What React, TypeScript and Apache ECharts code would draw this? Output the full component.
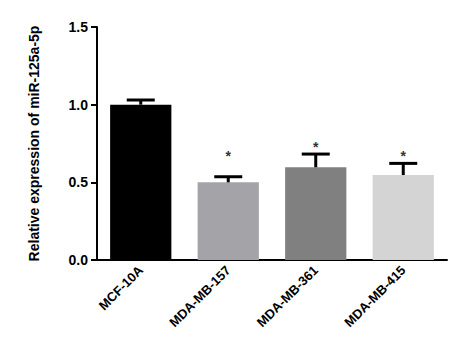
import React, { useEffect, useRef } from "react";
import * as echarts from "echarts";

const categories = ["MCF-10A", "MDA-MB-157", "MDA-MB-361", "MDA-MB-415"];
const means = [1.0, 0.5, 0.597, 0.547];
const errorTops = [1.03, 0.536, 0.682, 0.622];
const barColors = ["#000000", "#a4a4a8", "#808080", "#d4d4d4"];
const starY = [null, 0.69, 0.75, 0.69];
const yTicks = [0, 0.5, 1.0, 1.5];

export default function App() {
  const ref = useRef<HTMLDivElement>(null);
  useEffect(() => {
    if (!ref.current) return;
    const chart = echarts.init(ref.current, null, { renderer: "svg" });
    const font = "'Liberation Sans', Arial, sans-serif";
    chart.setOption({
      animation: false,
      backgroundColor: "#ffffff",
      grid: { left: 97, right: 15, top: 27, bottom: 95 },
      xAxis: {
        type: "category",
        data: categories,
        axisLine: { lineStyle: { color: "#000", width: 2 } },
        axisTick: { alignWithLabel: true, length: 5, lineStyle: { color: "#000", width: 2 } },
        axisLabel: {
          rotate: 45,
          color: "#000",
          fontWeight: "bold",
          fontSize: 13,
          fontFamily: font,
          margin: 8,
        },
      },
      yAxis: {
        type: "value",
        min: yTicks[0],
        max: yTicks[yTicks.length - 1],
        interval: 0.5,
        name: "Relative expression of miR-125a-5p",
        nameLocation: "middle",
        nameGap: 56,
        nameTextStyle: { color: "#000", fontWeight: "bold", fontSize: 14, fontFamily: font },
        splitLine: { show: false },
        axisLine: { show: true, lineStyle: { color: "#000", width: 2 } },
        axisTick: { show: true, length: 6, lineStyle: { color: "#000", width: 2 } },
        axisLabel: {
          color: "#000",
          fontWeight: "bold",
          fontSize: 14,
          fontFamily: font,
          margin: 9,
          formatter: (v: number) => v.toFixed(1),
        },
      },
      series: [
        {
          type: "bar",
          barWidth: "70%",
          data: means.map((v, i) => ({ value: v, itemStyle: { color: barColors[i] } })),
          z: 2,
        },
        {
          type: "custom",
          z: 3,
          data: categories.map((_, i) => [i, means[i], errorTops[i]]),
          renderItem: (params: any, api: any) => {
            const x = api.value(0);
            const base = api.coord([x, api.value(1)]);
            const top = api.coord([x, api.value(2)]);
            const hw = 14;
            return {
              type: "group",
              children: [
                {
                  type: "line",
                  shape: { x1: base[0], y1: base[1], x2: top[0], y2: top[1] },
                  style: { stroke: "#000", lineWidth: 3 },
                },
                {
                  type: "line",
                  shape: { x1: top[0] - hw, y1: top[1], x2: top[0] + hw, y2: top[1] },
                  style: { stroke: "#000", lineWidth: 3 },
                },
              ],
            };
          },
        },
        {
          type: "custom",
          z: 4,
          data: categories
            .map((_, i) => [i, starY[i]])
            .filter((d) => d[1] !== null),
          renderItem: (params: any, api: any) => {
            const p = api.coord([api.value(0), api.value(1)]);
            return {
              type: "text",
              x: p[0],
              y: p[1] + 3,
              style: {
                text: "*",
                fill: "#333",
                fontSize: 14,
                fontFamily: font,
                fontWeight: "bold",
                align: "center",
                verticalAlign: "middle",
              },
            };
          },
        },
      ],
    });
    return () => chart.dispose();
  }, []);
  return <div ref={ref} style={{ width: 462, height: 355, position: "absolute", left: 0, top: 0 }} />;
}
